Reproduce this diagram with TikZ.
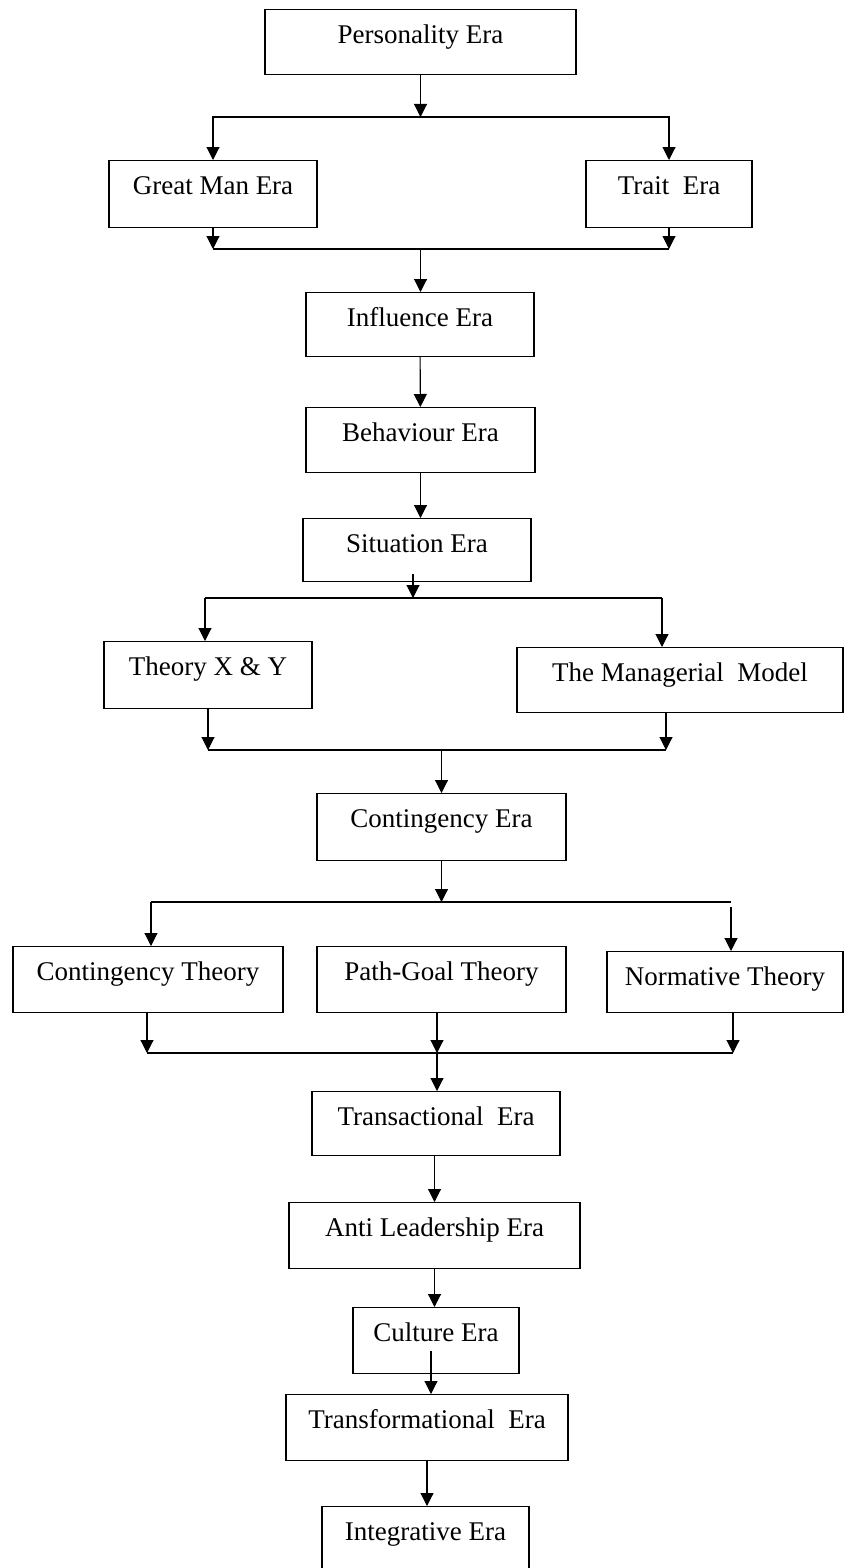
\documentclass[tikz,border=0pt]{standalone}
\usepackage{fontspec}
\setmainfont{Liberation Serif}
\usetikzlibrary{arrows.meta,positioning}

\begin{document}
\begin{tikzpicture}[x=1pt,y=-1pt,line width=1.1pt,
    >={Triangle[length=13pt,width=13pt]},
    font=\fontsize{27pt}{32pt}\selectfont,
    era/.style={rectangle,draw,inner sep=0pt,text height=34pt,text depth=31pt,anchor=north}]
  \useasboundingbox (0,0) rectangle (847,1568);
  % boxes
  \node[era,minimum width=311pt] (pers) at (420.5,9) {Personality Era};
  \node[era,minimum width=208pt,text depth=33pt] (great) at (213,160) {Great Man Era};
  \node[era,minimum width=166pt,text depth=33pt] (trait) at (669,160) {Trait~ Era};
  \node[era,minimum width=228pt,text depth=30pt] (infl) at (420,292) {Influence Era};
  \node[era,minimum width=229pt] (behav) at (420.5,407) {Behaviour Era};
  \node[era,minimum width=228pt,text depth=29pt] (situ) at (417,518) {Situation Era};
  \node[era,minimum width=208pt,text depth=33pt] (thxy) at (208,641) {Theory X \& Y};
  \node[era,minimum width=326pt] (mgr) at (680,647) {The Managerial~ Model};
  \node[era,minimum width=249pt,text depth=33pt] (cont) at (441.5,793) {Contingency Era};
  \node[era,minimum width=270pt,text depth=32pt] (cth) at (148,946) {Contingency Theory};
  \node[era,minimum width=249pt,text depth=32pt] (pgt) at (441.5,946) {Path-Goal Theory};
  \node[era,minimum width=236pt,text depth=27pt] (nrm) at (725,951) {Normative Theory};
  \node[era,minimum width=248pt,text depth=30pt] (trans) at (436,1091) {Transactional~ Era};
  \node[era,minimum width=291pt,text depth=32pt] (anti) at (434.5,1202) {Anti Leadership Era};
  \node[era,minimum width=166pt,text depth=32pt] (cult) at (436,1307) {Culture Era};
  \node[era,minimum width=282pt,text depth=32pt] (trf) at (427,1394) {Transformational~ Era};
  \node[era,minimum width=207pt,text depth=40pt] (integ) at (425.5,1506) {Integrative Era};
  %%%
  % junctions
  \coordinate (j1) at (420.5,117);
  \coordinate (m1l) at (213,249);
  \coordinate (m1) at (420.5,249);
  \coordinate (m1r) at (669,249);
  \coordinate (s0) at (413,574);
  \coordinate (j2) at (413,598);
  \coordinate (f2l) at (205,598);
  \coordinate (f2r) at (662,598);
  \coordinate (m2l) at (208,750);
  \coordinate (m2) at (441.5,750);
  \coordinate (m2r) at (666,750);
  \coordinate (j3) at (441.5,902);
  \coordinate (f3l) at (151,902);
  \coordinate (f3r) at (731,902);
  \coordinate (f3n) at (731,907);
  \coordinate (m3l) at (147,1053);
  \coordinate (m3) at (437,1053);
  \coordinate (m3r) at (733,1053);
  \coordinate (c0) at (431,1351);
  %%%
  \draw[->] (pers) -- (j1);
  \draw[->] (j1) -| (great);
  \draw[->] (j1) -| (trait);
  \draw[->] (great) -- (m1l);
  \draw[->] (trait) -- (m1r);
  \draw (m1l) -- (m1r);
  \draw[->] (m1) -- (m1 |- infl.north);
  \draw[->] (infl) -- (behav);
  \draw[->] (behav) -- (behav |- situ.north);
  %%%
  \draw[->] (s0) -- (j2);
  \draw (f2l) -- (f2r);
  \draw[->] (f2l) -- (f2l |- thxy.north);
  \draw[->] (f2r) -- (f2r |- mgr.north);
  \draw[->] (thxy) -- (m2l);
  \draw[->] (mgr.south -| m2r) -- (m2r);
  \draw (m2l) -- (m2r);
  \draw[->] (m2) -- (cont);
  %%%
  \draw[->] (cont) -- (j3);
  \draw (f3l) -- (f3r);
  \draw[->] (f3l) -- (f3l |- cth.north);
  \draw[->] (f3n) -- (f3n |- nrm.north);
  \draw[->] (cth.south -| m3l) -- (m3l);
  \draw[->] (pgt.south -| m3) -- (m3);
  \draw[->] (nrm.south -| m3r) -- (m3r);
  \draw (m3l) -- (m3r);
  \draw[->] (m3) -- (m3 |- trans.north);
  %%%
  \draw[->] (anti |- trans.south) -- (anti);
  \draw[->] (anti) -- (anti |- cult.north);
  \draw[->] (c0) -- (c0 |- trf.north);
  \draw[->] (trf) -- (trf |- integ.north);
\end{tikzpicture}
\end{document}
